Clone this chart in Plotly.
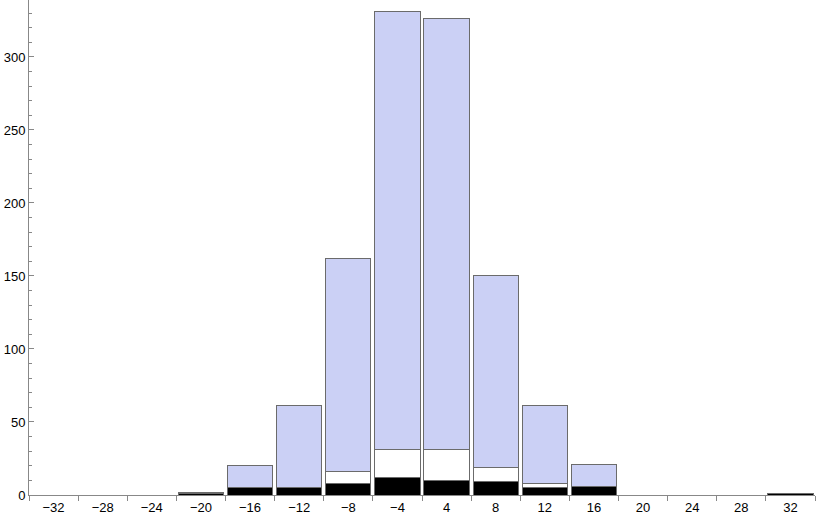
import plotly.graph_objects as go

categorias = ["−32", "−28", "−24", "−20", "−16", "−12", "−8", "−4",
              "4", "8", "12", "16", "20", "24", "28", "32"]
negro = [0, 0, 0, 1, 5, 5, 8, 12, 10, 9, 5, 6, 0, 0, 0, 1]
blanco = [0, 0, 0, 0, 0, 0, 8, 19, 21, 10, 3, 0, 0, 0, 0, 0]
azul = [0, 0, 0, 1, 15, 56, 146, 300, 295, 131, 53, 15, 0, 0, 0, 0]

borde = dict(color="#6b6b6b", width=1)

fig = go.Figure()
fig.add_trace(go.Bar(x=categorias, y=negro, marker=dict(color="black", line=borde)))
fig.add_trace(go.Bar(x=categorias, y=blanco, marker=dict(color="white", line=borde)))
fig.add_trace(go.Bar(x=categorias, y=azul, marker=dict(color="#cbd0f5", line=borde)))

fig.update_layout(
    barmode="stack",
    bargap=0.08,
    showlegend=False,
    width=830, height=515,
    margin=dict(l=29, r=15, t=0, b=16),
    plot_bgcolor="white",
    paper_bgcolor="white",
    font=dict(family="Liberation Sans, Arial, sans-serif", size=13, color="black"),
)
fig.update_xaxes(
    type="category",
    showline=True, linecolor="#888", linewidth=1,
    ticks="outside", tickson="boundaries", ticklen=5, tickcolor="#888",
    showgrid=False, zeroline=False,
)
fig.update_yaxes(
    range=[0, 339], automargin=False,
    showline=True, linecolor="#888", linewidth=1,
    ticks="inside", ticklen=5, tickcolor="#888", dtick=50,
    minor=dict(dtick=10, ticks="inside", ticklen=3, tickcolor="#888"),
    showgrid=False, zeroline=False,
)

# el body trae margen de 8px por defecto
fig.write_html("out.html", config={"displayModeBar": False},
               post_script="document.body.style.margin='0';")
